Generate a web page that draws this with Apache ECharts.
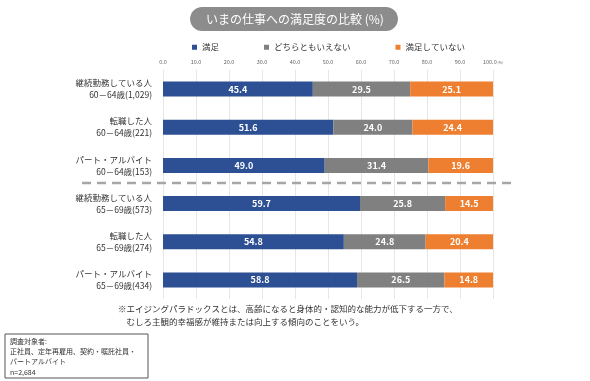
<!DOCTYPE html>
<html><head><meta charset="utf-8">
<script src="https://cdn.jsdelivr.net/npm/echarts@6/dist/echarts.min.js"></script>
<style>html,body{margin:0;padding:0;background:#fff}#c{width:590px;height:381px}</style>
</head><body><div id="c"></div>
<script>
const categories = [
  "継続勤務している人\n60－64歳(1,029)",
  "転職した人\n60－64歳(221)",
  "パート・アルバイト\n60－64歳(153)",
  "継続勤務している人\n65－69歳(573)",
  "転職した人\n65－69歳(274)",
  "パート・アルバイト\n65－69歳(434)"
];
const seriesNames = ["満足", "どちらともいえない", "満足していない"];
const satisfied = [45.4, 51.6, 49.0, 59.7, 54.8, 58.8];
const neutral = [29.5, 24.0, 31.4, 25.8, 24.8, 26.5];
const unsatisfied = [25.1, 24.4, 19.6, 14.5, 20.4, 14.8];
const colors = ["#2D4F94", "#808080", "#EE7F30"];
const font = "'Noto Sans CJK JP', 'Noto Sans', sans-serif";

const chart = echarts.init(document.getElementById('c'));
const mk = (name, data, color) => ({
  name, type: 'bar', stack: 'all', data, barWidth: 15,
  itemStyle: { color },
  label: { show: true, position: 'inside', color: '#fff', fontSize: 9, fontWeight: 'bold', fontFamily: font,
    formatter: p => p.value.toFixed(1) }
});
chart.setOption({
  animation: false,
  textStyle: { fontFamily: font },
  title: {
    text: 'いまの仕事への満足度の比較 (%)', left: 'center', top: 7,
    backgroundColor: '#8C8C8C', borderRadius: 13, padding: [6, 14, 6, 16],
    textStyle: { color: '#fff', fontSize: 12, fontWeight: 'normal', fontFamily: font }
  },
  legend: {
    data: seriesNames, top: 38, left: 187, itemGap: 45, itemWidth: 5, itemHeight: 5, icon: 'rect',
    textStyle: { fontSize: 8.5, color: '#333', fontFamily: font }
  },
  grid: { left: 163, right: 97, top: 70, bottom: 82 },
  xAxis: {
    type: 'value', position: 'top', min: 0, max: 100, interval: 10,
    axisLine: { show: false }, axisTick: { show: false },
    splitLine: { lineStyle: { color: '#E6E6E6' } },
    axisLabel: { fontSize: 5.5, color: '#666', margin: 5,
      formatter: v => v === 100 ? '{a|100.0}{b| (%)}' : v.toFixed(1),
      rich: { a: { fontSize: 5.5, color: '#666' }, b: { fontSize: 3.5, color: '#666' } } }
  },
  yAxis: {
    type: 'category', inverse: true, data: categories,
    axisLine: { show: false }, axisTick: { show: false },
    axisLabel: { fontSize: 8.5, color: '#333', lineHeight: 12, align: 'right', margin: 11 }
  },
  series: [mk(seriesNames[0], satisfied, colors[0]), mk(seriesNames[1], neutral, colors[1]), mk(seriesNames[2], unsatisfied, colors[2])]
});
const y3 = chart.convertToPixel({ yAxisIndex: 0 }, categories[2]);
const y4 = chart.convertToPixel({ yAxisIndex: 0 }, categories[3]);
const ym = Math.round((y3 + y4) / 2) - 2;
chart.setOption({
  graphic: [
    { type: 'line', shape: { x1: 82, y1: ym, x2: 512, y2: ym },
      style: { stroke: '#A6A6A6', lineWidth: 2.5, lineDash: [9, 6] } },
    { type: 'text', left: 118, top: 303,
      style: { text: '※エイジングパラドックスとは、高齢になると身体的・認知的な能力が低下する一方で、\n　むしろ主観的幸福感が維持または向上する傾向のことをいう。',
        fontSize: 8.5, lineHeight: 12.5, fill: '#333', fontFamily: font } },
    { type: 'rect', shape: { x: 5, y: 334, width: 143, height: 44 },
      style: { fill: '#fff', stroke: '#555', lineWidth: 1 } },
    { type: 'text', left: 10, top: 336,
      style: { text: '調査対象者:\n正社員、定年再雇用、契約・嘱託社員・\nパートアルバイト\nn=2,684',
        fontSize: 7, lineHeight: 10.3, fill: '#333', fontFamily: font } }
  ]
});
</script></body></html>
